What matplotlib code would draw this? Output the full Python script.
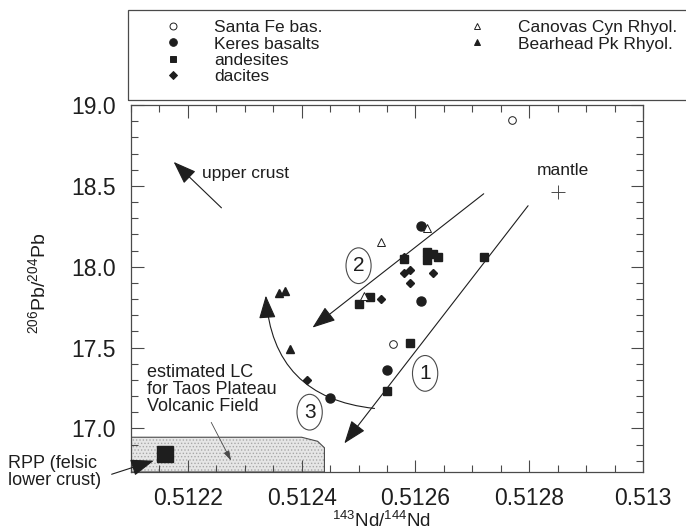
import matplotlib.pyplot as plt
from matplotlib.lines import Line2D
from matplotlib.patches import Polygon, Rectangle
from matplotlib.ticker import MultipleLocator

plt.rcParams['font.family'] = ['Liberation Sans', 'DejaVu Sans']
plt.rcParams['mathtext.default'] = 'regular'
plt.rcParams['hatch.linewidth'] = 0.6

INK = '#1e1e1e'
LINE = '#4a4a4a'

# 143Nd/144Nd (x) vs 206Pb/204Pb (y)
santa_fe_nd = [0.51277, 0.51256]
santa_fe_pb = [18.91, 17.52]
keres_nd = [0.51261, 0.51261, 0.51255, 0.51245]
keres_pb = [18.25, 17.79, 17.36, 17.19]
andesite_nd = [0.51272, 0.51258, 0.51262, 0.51263, 0.51264, 0.51262,
               0.51252, 0.51250, 0.51259, 0.51255]
andesite_pb = [18.06, 18.05, 18.09, 18.08, 18.06, 18.04,
               17.81, 17.77, 17.53, 17.23]
dacite_nd = [0.51258, 0.51258, 0.51259, 0.51263, 0.51259, 0.51254, 0.51241]
dacite_pb = [18.06, 17.96, 17.98, 17.96, 17.90, 17.80, 17.30]
canovas_nd = [0.51262, 0.51254, 0.51251]
canovas_pb = [18.24, 18.15, 17.82]
bearhead_nd = [0.51236, 0.51237, 0.51238]
bearhead_pb = [17.84, 17.85, 17.49]
rpp_nd, rpp_pb = [0.51216], [16.84]
mantle_nd, mantle_pb = [0.51285], [18.46]

# estimated lower crust field (outline)
lc_nd = [0.5121, 0.51240, 0.512428, 0.51244, 0.51244, 0.5121]
lc_pb = [16.945, 16.945, 16.92, 16.88, 16.73, 16.73]

# trend arrows: (tail, tip)
arrow1 = ((0.512798, 18.377), (0.512475, 16.907))
arrow2 = ((0.51272, 18.451), (0.512419, 17.623))
arrow3 = ((0.512528, 17.123), (0.512337, 17.821))
crust_arrow = ((0.512259, 18.364), (0.512175, 18.648))
lc_arrow = ((0.512241, 17.037), (0.512276, 16.80))
rpp_arrow = ((0.512066, 16.716), (0.51214, 16.80))

trend_labels = ['1', '2', '3']
trend_label_pos = [(0.512617, 17.34), (0.5125, 18.006), (0.512414, 17.10)]

x_ticks = [0.5122, 0.5124, 0.5126, 0.5128, 0.513]
x_ticklabels = ['0.5122', '0.5124', '0.5126', '0.5128', '0.513']
y_ticks = [17.0, 17.5, 18.0, 18.5, 19.0]
y_ticklabels = ['17.0', '17.5', '18.0', '18.5', '19.0']

fig = plt.figure(figsize=(6.86, 5.31), dpi=100)
ax = fig.add_axes([131 / 686, 1 - 472 / 531, 512 / 686, 367 / 531])

# lower crust field
ax.add_patch(Polygon(list(zip(lc_nd, lc_pb)), closed=True, facecolor='#e6e6e6',
                     edgecolor='#a8a8a8', lw=0, hatch='.....', zorder=1))
ax.add_patch(Polygon(list(zip(lc_nd, lc_pb)), closed=True, fill=False,
                     edgecolor=LINE, lw=0.8, zorder=1.5))

ms = 6
ax.plot(santa_fe_nd, santa_fe_pb, 'o', mfc='white', mec=INK, mew=0.7, ms=ms - 0.5, zorder=3)
ax.plot(keres_nd, keres_pb, 'o', color=INK, ms=ms + 0.5, zorder=3)
ax.plot(andesite_nd, andesite_pb, 's', color=INK, ms=ms, zorder=3)
ax.plot(dacite_nd, dacite_pb, 'D', color=INK, ms=ms - 1.5, zorder=3)
ax.plot(canovas_nd, canovas_pb, '^', mfc='white', mec=INK, mew=0.7, ms=ms, zorder=3)
ax.plot(bearhead_nd, bearhead_pb, '^', color=INK, ms=ms, zorder=3)
ax.plot(rpp_nd, rpp_pb, 's', color=INK, ms=12, zorder=3)
ax.plot(mantle_nd, mantle_pb, '+', color=LINE, ms=10, mew=0.7, zorder=3)

head = '-|>,head_length=0.6,head_width=0.22'
for (tail, tip), rad in [(arrow1, 0), (arrow2, 0), (arrow3, -0.42), (crust_arrow, 0)]:
    ax.annotate('', xy=tip, xytext=tail,
                arrowprops=dict(arrowstyle=head, color=INK, lw=0.8, mutation_scale=24,
                                shrinkA=0, shrinkB=0,
                                connectionstyle=f'arc3,rad={rad}'))
ax.annotate('', xy=lc_arrow[1], xytext=lc_arrow[0],
            arrowprops=dict(arrowstyle='-|>,head_length=0.5,head_width=0.15', color=LINE,
                            lw=0.6, mutation_scale=12, shrinkA=0, shrinkB=0))
ax.annotate('', xy=rpp_arrow[1], xytext=rpp_arrow[0], annotation_clip=False,
            arrowprops=dict(arrowstyle=head, color=INK, lw=0.8, mutation_scale=24,
                            shrinkA=0, shrinkB=0))

for lab, (x, y) in zip(trend_labels, trend_label_pos):
    ax.text(x, y, lab, fontsize=15, ha='center', va='center', color=INK,
            bbox=dict(boxstyle='ellipse,pad=0.15', fc='white', ec=LINE, lw=0.8))

ax.text(0.512224, 18.574, 'upper crust', fontsize=12.5, color=INK, va='center')
ax.text(0.512859, 18.593, 'mantle', fontsize=12.5, color=INK, ha='center', va='center')
ax.text(0.512128, 17.24, 'estimated LC\nfor Taos Plateau\nVolcanic Field', fontsize=13,
        color=INK, va='center', linespacing=1.0)
fig.text(8 / 686, 1 - 472 / 531, 'RPP (felsic\nlower crust)', fontsize=13, color=INK,
         va='center', linespacing=1.0)

ax.set_xlim(0.5121, 0.5130)
ax.set_ylim(16.73, 19.0)
ax.set_xticks(x_ticks)
ax.set_xticklabels(x_ticklabels)
ax.set_yticks(y_ticks)
ax.set_yticklabels(y_ticklabels)
ax.xaxis.set_minor_locator(MultipleLocator(0.00005))
ax.yaxis.set_minor_locator(MultipleLocator(0.1))
ax.tick_params(which='both', direction='in', top=True, right=True, color=LINE, width=0.8)
ax.tick_params(which='major', length=9, labelsize=16.5, labelcolor=INK)
ax.tick_params(axis='x', which='major', pad=11)
ax.tick_params(axis='y', which='major', pad=11)
ax.tick_params(which='minor', length=5)
for s in ax.spines.values():
    s.set_color(LINE)
    s.set_linewidth(0.9)

ax.set_xlabel('$^{143}$Nd/$^{144}$Nd', fontsize=13.5, color=INK)
ax.xaxis.set_label_coords(0.49, -0.107)
ax.set_ylabel('$^{206}$Pb/$^{204}$Pb', fontsize=14, color=INK)
ax.yaxis.set_label_coords(-0.16, 0.515)

# legend box above the plot, running off the right edge
fig.add_artist(Rectangle((128 / 686, 1 - 100 / 531), 0.9, 90 / 531, transform=fig.transFigure,
                         fill=False, ec=LINE, lw=0.9, clip_on=False))

def handle(marker, filled, size):
    return Line2D([], [], ls='none', marker=marker, ms=size, mec=INK, mew=0.7,
                  mfc=INK if filled else 'white')

left_handles = [handle('o', False, 5), handle('o', True, 5.5), handle('s', True, 5),
                handle('D', True, 4)]
left_labels = ['Santa Fe bas.', 'Keres basalts', 'andesites', 'dacites']
right_handles = [handle('^', False, 5), handle('^', True, 5)]
right_labels = ['Canovas Cyn Rhyol.', 'Bearhead Pk Rhyol.']

leg_kw = dict(loc='upper left', frameon=False, fontsize=12.5, handlelength=1.0,
              handletextpad=1.9, labelspacing=0.07, borderpad=0, borderaxespad=0,
              labelcolor=INK)
fig.legend(left_handles, left_labels, bbox_to_anchor=(164 / 686, 1 - 20 / 531), **leg_kw)
fig.legend(right_handles, right_labels, bbox_to_anchor=(468 / 686, 1 - 20 / 531), **leg_kw)

fig.savefig('out.png', dpi=100)
